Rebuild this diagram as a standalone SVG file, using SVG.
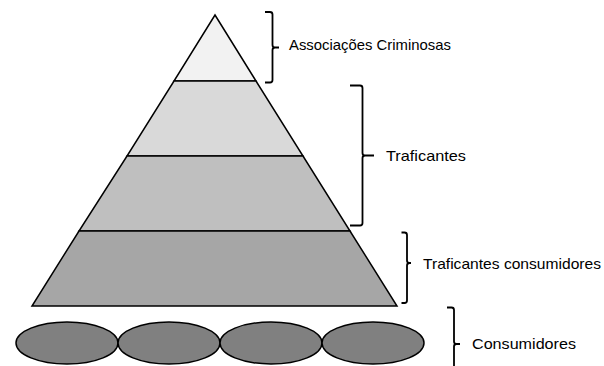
<svg xmlns="http://www.w3.org/2000/svg" width="604" height="366" viewBox="0 0 604 366">
<style>
.lvl{stroke:#000;stroke-width:1.5;stroke-linejoin:miter}
.ell{fill:#808080;stroke:#000;stroke-width:1.5}
.br{fill:none;stroke:#000;stroke-width:1.8}
.lbl{font-family:"Liberation Sans",Arial,sans-serif;font-size:15px;fill:#000}
</style>
<rect width="604" height="366" fill="#fff"/>
<g id="pyramid">
<g id="level1"><polygon class="lvl" fill="#f2f2f2" points="215,15 256,81 174,81"/></g>
<g id="level2"><polygon class="lvl" fill="#d9d9d9" points="174,81 256,81 303,156 127,156"/></g>
<g id="level3"><polygon class="lvl" fill="#bfbfbf" points="127,156 303,156 350,231 79,231"/></g>
<g id="level4"><polygon class="lvl" fill="#a6a6a6" points="79,231 350,231 397,306 32,306"/></g>
</g>
<g id="consumers">
<ellipse class="ell" cx="67" cy="343" rx="51" ry="21"/>
<ellipse class="ell" cx="169" cy="343" rx="51" ry="21"/>
<ellipse class="ell" cx="271" cy="343" rx="51" ry="21"/>
<ellipse class="ell" cx="373" cy="343" rx="51" ry="21"/>
</g>
<g id="connectors">
<path class="br" d="M265,12 H270 Q272.5,12 272.5,14.5 V45 Q272.5,47.5 275,47.5 H279 M275,47.5 Q272.5,47.5 272.5,50 V80 Q272.5,82.5 270,82.5 H265"/>
<path class="br" d="M350,85.5 H360 Q362.5,85.5 362.5,88 V153 Q362.5,155.5 365,155.5 H374 M365,155.5 Q362.5,155.5 362.5,158 V223 Q362.5,225.5 360,225.5 H350"/>
<path class="br" d="M401.5,232.5 H404.5 Q407,232.5 407,235 V260.5 Q407,263 409.5,263 H411 M409.5,263 Q407,263 407,265.5 V300.5 Q407,303 404.5,303 H401.5"/>
<path class="br" d="M447,307.5 H451.5 Q454,307.5 454,310 V341.5 Q454,344 456.5,344 H460 M456.5,344 Q454,344 454,346.5 V366"/>
</g>
<g id="labels">
<text class="lbl" x="289" y="50" textLength="162" lengthAdjust="spacingAndGlyphs">Associações Criminosas</text>
<text class="lbl" x="386" y="161" textLength="80" lengthAdjust="spacingAndGlyphs">Traficantes</text>
<text class="lbl" x="423" y="269" textLength="178" lengthAdjust="spacingAndGlyphs">Traficantes consumidores</text>
<text class="lbl" x="472" y="349" textLength="104" lengthAdjust="spacingAndGlyphs">Consumidores</text>
</g>
</svg>
